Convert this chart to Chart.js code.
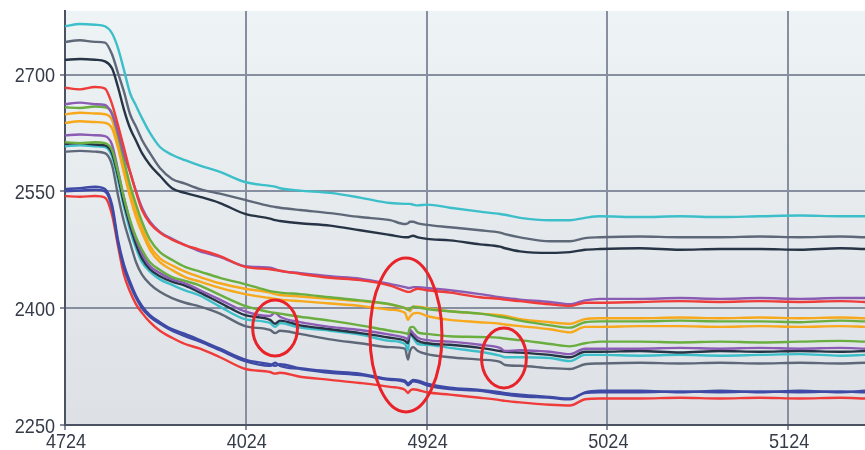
<!DOCTYPE html>
<html>
<head>
<meta charset="utf-8">
<script src="https://cdn.jsdelivr.net/npm/chart.js@4.4.1/dist/chart.umd.min.js"></script>
<style>
  html, body { margin: 0; padding: 0; background: #ffffff; overflow: hidden; }
  #wrap { width: 865px; height: 450px; }
</style>
</head>
<body>
<div id="wrap"><canvas id="c" width="865" height="450"></canvas></div>
<script>
// Sample positions along the x axis
const xs = [4724, 4732.3, 4740.6, 4746.1, 4750.0, 4753.3, 4756.6, 4760.0, 4763.3, 4766.6,
            4771.0, 4776.5, 4783.2, 4790.4, 4798.7, 4809.7, 4823.6, 4837.4, 4840.2, 4842.9,
            4854.0, 4870.6, 4887.2, 4903.8, 4912.1, 4913.7, 4914.8, 4916.5, 4919.2, 4924.2,
            4936.9, 4953.5, 4964.6, 4967.4, 4975.7, 4992.3, 5003.3, 5011.6, 5019.9, 5042.0,
            5064.2, 5086.3, 5108.4, 5130.5, 5152.7, 5166.5];

// Tick values and their printed labels
const xTickValues = [4724, 4824, 4924, 5024, 5124];
const xTickLabels = ["4724", "4024", "4924", "5024", "5124"];
const yTickValues = [2250, 2400, 2550, 2700];
const yTickLabels = ["2250", "2400", "2550", "2700"];

// Series
const s1  = [2762,2765,2764,2762,2753,2734,2706,2676,2660,2644,2625,2607,2597,2590,2583,2575,2562,2557,2556,2554,2551,2548,2542,2535,2534,2534,2534,2533,2532,2533,2529,2524,2521,2520,2516,2513,2513,2516,2518,2517,2518,2517,2518,2519,2518,2518];
const s2  = [2742,2744,2742,2741,2726,2702,2678,2649,2633,2616,2599,2580,2566,2560,2553,2547,2539,2531,2530,2529,2526,2522,2517,2513,2508,2509,2511,2511,2509,2507,2504,2500,2497,2495,2491,2486,2486,2490,2491,2492,2491,2491,2492,2491,2492,2491];
const s3  = [2719,2720,2719,2717,2708,2684,2655,2631,2615,2599,2584,2570,2554,2548,2543,2535,2521,2515,2513,2512,2509,2506,2500,2494,2491,2491,2492,2493,2491,2489,2487,2482,2479,2477,2473,2471,2472,2475,2476,2477,2475,2476,2476,2475,2477,2476];
const s4  = [2683,2681,2684,2682,2662,2635,2606,2575,2549,2526,2509,2497,2488,2481,2475,2467,2453,2450,2449,2448,2444,2439,2436,2429,2422,2421,2421,2423,2425,2423,2420,2414,2412,2411,2409,2405,2403,2407,2407,2408,2409,2408,2409,2408,2409,2408];
const s5  = [2662,2664,2662,2661,2649,2626,2597,2575,2550,2529,2511,2498,2489,2481,2473,2466,2454,2452,2450,2448,2445,2441,2438,2431,2427,2426,2426,2427,2427,2426,2423,2418,2414,2413,2411,2408,2405,2410,2412,2412,2413,2412,2413,2412,2413,2413];
const s6  = [2658,2657,2659,2658,2651,2622,2590,2558,2533,2511,2488,2472,2462,2453,2447,2439,2431,2422,2421,2420,2418,2414,2410,2405,2400,2398,2399,2402,2401,2399,2396,2393,2389,2388,2384,2378,2375,2382,2383,2383,2384,2383,2383,2382,2384,2383];
const s7  = [2649,2651,2650,2649,2642,2613,2580,2549,2524,2503,2480,2464,2455,2447,2440,2432,2425,2420,2418,2417,2415,2412,2409,2405,2400,2399,2396,2402,2402,2400,2396,2393,2391,2390,2386,2382,2380,2386,2387,2387,2388,2387,2388,2387,2388,2387];
const s8  = [2638,2640,2639,2638,2631,2606,2574,2543,2517,2497,2475,2459,2449,2440,2434,2426,2418,2413,2412,2411,2409,2406,2403,2398,2394,2385,2389,2393,2394,2390,2385,2382,2380,2379,2377,2373,2369,2376,2376,2377,2377,2376,2377,2376,2377,2376];
const s9  = [2613,2612,2613,2612,2603,2575,2542,2513,2491,2475,2459,2449,2440,2435,2429,2417,2403,2395,2394,2393,2389,2384,2378,2371,2368,2367,2375,2376,2369,2367,2364,2363,2362,2361,2359,2354,2351,2355,2357,2357,2356,2357,2356,2357,2358,2357];
const s10 = [2622,2623,2622,2621,2610,2577,2542,2511,2488,2470,2454,2445,2437,2432,2423,2411,2396,2390,2394,2389,2382,2376,2372,2366,2362,2360,2372,2368,2362,2359,2357,2353,2349,2345,2346,2344,2341,2348,2348,2348,2349,2348,2349,2348,2349,2348];
const s11 = [2611,2612,2610,2609,2599,2570,2535,2506,2482,2464,2450,2441,2434,2429,2420,2407,2391,2385,2380,2384,2378,2373,2368,2362,2358,2355,2368,2364,2358,2355,2353,2349,2345,2344,2343,2340,2337,2344,2344,2345,2343,2345,2344,2345,2344,2345];
const s12 = [2608,2609,2608,2607,2595,2565,2530,2500,2477,2459,2447,2437,2430,2423,2416,2402,2386,2381,2376,2381,2375,2371,2366,2358,2354,2346,2368,2362,2354,2353,2349,2344,2339,2337,2337,2336,2332,2340,2340,2339,2340,2339,2340,2341,2339,2340];
const s13 = [2601,2602,2601,2599,2584,2545,2511,2484,2459,2443,2431,2421,2413,2407,2402,2393,2377,2372,2368,2371,2367,2360,2355,2350,2348,2334,2345,2350,2345,2341,2337,2334,2331,2327,2326,2323,2322,2328,2329,2330,2329,2330,2329,2330,2329,2330];
const s14 = [2553,2554,2556,2553,2533,2488,2456,2434,2416,2403,2391,2382,2373,2367,2359,2348,2334,2328,2326,2328,2323,2319,2316,2309,2307,2303,2305,2308,2307,2303,2298,2295,2292,2291,2289,2286,2284,2291,2292,2292,2293,2292,2293,2292,2293,2292];
const s15 = [2550,2551,2552,2550,2529,2484,2452,2430,2413,2400,2389,2380,2371,2364,2357,2346,2332,2326,2330,2326,2322,2317,2314,2308,2305,2301,2303,2306,2305,2301,2296,2294,2290,2289,2287,2285,2283,2292,2294,2294,2292,2294,2292,2294,2292,2294];
const s16 = [2544,2543,2544,2542,2520,2480,2443,2421,2405,2394,2382,2371,2362,2354,2348,2337,2322,2318,2316,2317,2312,2308,2304,2299,2295,2291,2294,2296,2295,2292,2289,2285,2282,2281,2279,2276,2275,2283,2284,2284,2285,2284,2285,2284,2285,2284];

// Highlight ellipses (centre and radii in axis units)
const marks = [
  { x: 4840.2, y: 2374.6, rx: 12.4, ry: 36.0 },
  { x: 4912.6, y: 2365.6, rx: 19.9, ry: 98.9 },
  { x: 4966.8, y: 2336.1, rx: 12.4, ry: 38.5 }
];

const C = {
  cyan: '#3dbfca', slate: '#5e6878', navy: '#263445', red: '#ef3b39',
  purple: '#8b5cb4', green: '#6aae3f', orange: '#f7a81b', blue: '#3e4aa6'
};

const series = [
  [s1, C.cyan], [s2, C.slate], [s3, C.navy], [s4, C.red], [s5, C.purple],
  [s6, C.green], [s7, C.orange], [s8, C.orange], [s9, C.green], [s10, C.purple],
  [s11, C.navy], [s12, C.cyan], [s13, C.slate], [s14, C.blue], [s15, C.blue], [s16, C.red]
];

const datasets = series.map(([vals, col]) => ({
  data: xs.map((x, i) => ({ x: x, y: vals[i] })),
  borderColor: col,
  borderWidth: 2.4,
  pointRadius: 0,
  fill: false,
  cubicInterpolationMode: 'monotone'
}));

const plotBackground = {
  id: 'plotBackground',
  beforeDraw(chart) {
    const { ctx, chartArea: a } = chart;
    const g = ctx.createLinearGradient(0, a.top, 0, a.bottom);
    g.addColorStop(0, '#eef3f5');
    g.addColorStop(1, '#dde1e6');
    ctx.save();
    ctx.fillStyle = g;
    ctx.fillRect(a.left, a.top, a.right - a.left, a.bottom - a.top);
    ctx.restore();
  }
};

const ellipses = {
  id: 'ellipses',
  afterDatasetsDraw(chart) {
    const { ctx, scales: { x, y } } = chart;
    ctx.save();
    ctx.strokeStyle = '#e8232a';
    ctx.lineWidth = 3;
    marks.forEach(m => {
      const cx = x.getPixelForValue(m.x);
      const cy = y.getPixelForValue(m.y);
      const rx = Math.abs(x.getPixelForValue(m.x + m.rx) - cx);
      const ry = Math.abs(y.getPixelForValue(m.y + m.ry) - cy);
      ctx.beginPath();
      ctx.ellipse(cx, cy, rx, ry, 0, 0, Math.PI * 2);
      ctx.stroke();
    });
    ctx.restore();
  }
};

// Narrow tick labels: regular face squeezed horizontally
const LABEL_FONT = "21px 'Liberation Sans', Arial, sans-serif";
const LABEL_SQUEEZE = 0.86;
const tickLabels = {
  id: 'tickLabels',
  afterDraw(chart) {
    const { ctx, scales: { x, y } } = chart;
    ctx.save();
    ctx.font = LABEL_FONT;
    ctx.fillStyle = '#353b47';
    ctx.textBaseline = 'alphabetic';
    yTickValues.forEach((v, i) => {
      const py = y.getPixelForValue(v);
      ctx.save();
      ctx.translate(y.right - 10, py + 7.5);
      ctx.scale(LABEL_SQUEEZE, 1);
      ctx.textAlign = 'right';
      ctx.fillText(yTickLabels[i], 0, 0);
      ctx.restore();
    });
    xTickValues.forEach((v, i) => {
      const px = x.getPixelForValue(v);
      ctx.save();
      ctx.translate(px + 1, x.top + 23);
      ctx.scale(LABEL_SQUEEZE, 1);
      ctx.textAlign = 'center';
      ctx.fillText(xTickLabels[i], 0, 0);
      ctx.restore();
    });
    ctx.restore();
  }
};

new Chart(document.getElementById('c'), {
  type: 'line',
  data: { datasets },
  options: {
    responsive: false,
    animation: false,
    events: [],
    layout: { padding: { top: 11, left: 0, right: 0, bottom: 0 } },
    plugins: { legend: { display: false }, tooltip: { enabled: false } },
    scales: {
      x: {
        type: 'linear',
        min: 4724,
        max: 5166.5,
        afterBuildTicks: s => { s.ticks = xTickValues.map(v => ({ value: v })); },
        afterFit: s => { s.height = 25; },
        ticks: { display: false },
        grid: { color: '#868ea0', lineWidth: 2, tickLength: 5 },
        border: { color: '#4b5262', width: 2 }
      },
      y: {
        min: 2250,
        max: 2781.6,
        afterBuildTicks: s => { s.ticks = yTickValues.map(v => ({ value: v })); },
        afterFit: s => { s.width = 65; },
        ticks: { display: false },
        grid: { color: '#868ea0', lineWidth: 2, tickLength: 5 },
        border: { color: '#4b5262', width: 2 }
      }
    }
  },
  plugins: [plotBackground, ellipses, tickLabels]
});
</script>
</body>
</html>
